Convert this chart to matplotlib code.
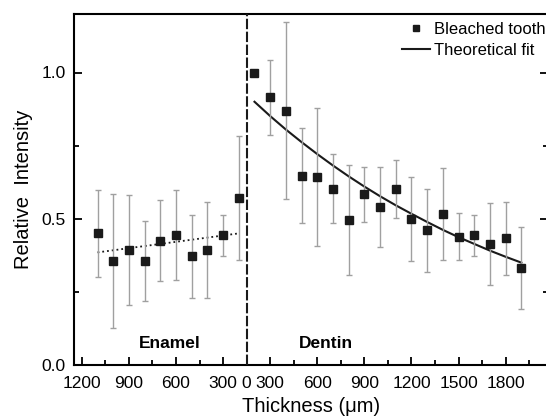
import matplotlib
matplotlib.use('Agg')
import matplotlib.pyplot as plt
from matplotlib.lines import Line2D
from matplotlib.ticker import FixedLocator

plt.rcParams['font.family'] = ['Liberation Sans', 'DejaVu Sans']

# enamel side (thickness read from the reversed left half)
enamel_t = [1100, 1000, 900, 800, 700, 600, 500, 400, 300, 200]
enamel_y = [0.450, 0.355, 0.393, 0.355, 0.425, 0.443, 0.372, 0.393, 0.443, 0.571]
enamel_err = [0.148, 0.230, 0.187, 0.136, 0.139, 0.154, 0.142, 0.163, 0.070, 0.212]
enamel_fit_t = [1100, 200]
enamel_fit_y = [0.385, 0.450]

# dentin side
dentin_t = [200, 300, 400, 500, 600, 700, 800, 900, 1000, 1100,
            1200, 1300, 1400, 1500, 1600, 1700, 1800, 1900]
dentin_y = [1.000, 0.916, 0.870, 0.647, 0.642, 0.603, 0.495, 0.583, 0.540, 0.602,
            0.498, 0.461, 0.516, 0.439, 0.443, 0.415, 0.433, 0.332]
dentin_err = [0.0, 0.128, 0.302, 0.162, 0.236, 0.117, 0.189, 0.094, 0.138, 0.100,
              0.144, 0.142, 0.157, 0.080, 0.069, 0.140, 0.125, 0.140]
fit_t = [200, 300, 400, 500, 600, 700, 800, 900, 1000, 1100,
         1200, 1300, 1400, 1500, 1600, 1700, 1800, 1900]
fit_y = [0.900, 0.851, 0.805, 0.762, 0.721, 0.682, 0.645, 0.610, 0.577, 0.546,
         0.517, 0.489, 0.462, 0.437, 0.414, 0.391, 0.370, 0.350]

# tick labels
enamel_ticks = [1200, 900, 600, 300]
enamel_minor = [1050, 750, 450]
dentin_ticks = [300, 600, 900, 1200, 1500, 1800]
dentin_minor = [450, 750, 1050, 1350, 1650, 1950]
split = 150  # both halves meet here, labelled "0"


def enamel_pos(t):
    # left half runs backwards, mirrored about the split
    return [2 * split - v for v in t]


fig = plt.figure(figsize=(5.46, 4.16), dpi=100)
ax = fig.add_axes([74 / 546, 51 / 416, 474 / 546, 351 / 416])

mk = dict(fmt='s', color='#1a1a1a', ms=6, ecolor='#a0a0a0', elinewidth=1,
          capsize=2.5, capthick=1, zorder=3)
ax.errorbar(enamel_pos(enamel_t), enamel_y, yerr=enamel_err, **mk)
ax.errorbar(dentin_t, dentin_y, yerr=dentin_err, **mk)
ax.plot(enamel_pos(enamel_fit_t), enamel_fit_y, ':', color='#1a1a1a', lw=1.3)
ax.plot(fit_t, fit_y, '-', color='#1a1a1a', lw=1.5)

ax.axvline(split, color='#1a1a1a', ls=(0, (5, 1.2)), lw=1.5, zorder=4)

ax.set_xlim(-950, 2070)
ax.set_ylim(0, 1.2)

major = enamel_pos(enamel_ticks) + [split] + dentin_ticks
labels = [str(v) for v in enamel_ticks] + ['0'] + [str(v) for v in dentin_ticks]
ax.set_xticks(major)
ax.set_xticklabels(labels)
ax.xaxis.set_minor_locator(FixedLocator(enamel_pos(enamel_minor) + dentin_minor))
ax.set_yticks([0, 0.5, 1.0])
ax.set_yticklabels(['0.0', '0.5', '1.0'])
ax.yaxis.set_minor_locator(FixedLocator([0.25, 0.75]))

ax.tick_params(which='both', direction='in', width=1.3, labelsize=12.5, right=True)
ax.tick_params(which='major', length=6)
ax.tick_params(which='minor', length=3.5)
ax.tick_params(axis='y', pad=6)
ax.tick_params(axis='x', pad=8)
for s in ax.spines.values():
    s.set_linewidth(1.5)

ax.set_xlabel('Thickness (μm)', fontsize=14.5, labelpad=4)
ax.set_ylabel('Relative  Intensity', fontsize=14.5, labelpad=6)

ax.text(170 / 546, 1 - 343 / 416, 'Enamel', transform=fig.transFigure,
        fontsize=12.5, fontweight='bold', ha='center', va='center')
ax.text(326 / 546, 1 - 343 / 416, 'Dentin', transform=fig.transFigure,
        fontsize=12.5, fontweight='bold', ha='center', va='center')

handles = [Line2D([], [], ls='none', marker='s', ms=5, color='#1a1a1a'),
           Line2D([], [], color='#1a1a1a', lw=1.5)]
ax.legend(handles, ['Bleached tooth', 'Theoretical fit'], loc='upper left',
          bbox_to_anchor=(402 / 546, 1 - 22 / 416),
          bbox_transform=fig.transFigure, frameon=False, fontsize=12,
          handlelength=1.7, handletextpad=0.25, borderpad=0, borderaxespad=0,
          labelspacing=0.35, numpoints=1)

fig.savefig('out.png', dpi=100)
plt.close()
